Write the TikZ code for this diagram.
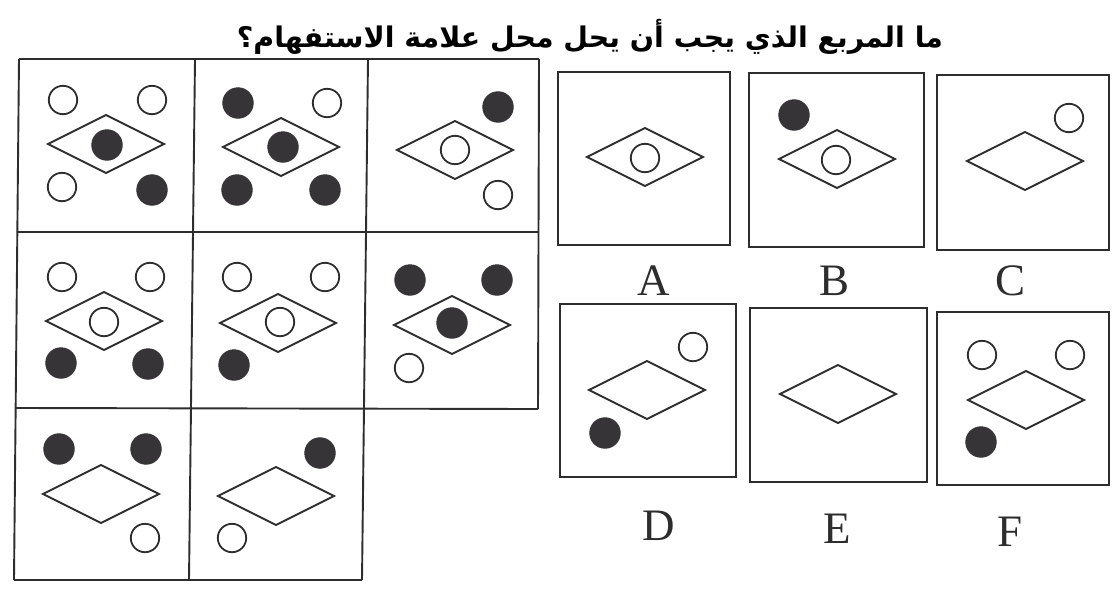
\documentclass[tikz,border=0pt]{standalone}
\usepackage{fontspec}
\setmainfont{Liberation Serif}
\newfontfamily\arabicfont[Script=Arabic]{DejaVu Sans}
\TeXXeTstate=1
\definecolor{ink}{RGB}{45,45,45}
\definecolor{dot}{RGB}{55,52,55}
\tikzset{
  lin/.style={draw=ink, line width=0.95pt},
  opc/.style={circle, draw=ink, line width=0.9pt, fill=white, minimum size=14.2pt, inner sep=0pt},
  blk/.style={circle, draw=dot, line width=0.5pt, fill=dot, minimum size=15.2pt, inner sep=0pt},
  dia/.pic={\draw[lin, line join=miter] (-58,0) -- (0,-29) -- (58,0) -- (0,29) -- cycle;},
  lab/.style={anchor=base, font=\fontsize{22.5}{26}\selectfont, text=ink, inner sep=0pt}
}
\begin{document}
\begin{tikzpicture}[x=0.5pt, y=-0.5pt]
\useasboundingbox (0,0) rectangle (1112,589);
% title
\node (title) at (590,37) {\resizebox{353pt}{!}{\arabicfont\bfseries\beginR ما المربع الذي يجب أن يحل محل علامة الاستفهام؟\endR}};

% grid lines
\draw[lin] (19,59) -- (539,59);
\draw[lin] (18,232) -- (539,232);
\draw[lin] (16,408) -- (538,409);
\draw[lin] (14,580) -- (362,580);
\draw[lin] (19,59) -- (14,580);
\draw[lin] (195,59) -- (189,580);
\draw[lin] (368,59) -- (362,580);
\draw[lin] (539,59) -- (538,409);

% cell 1
\node[opc] (c1a) at (63,100) {};
\node[opc] (c1b) at (152,100) {};
\pic (d1) at (106,144) {dia};
\node[blk] (c1c) at (107,145) {};
\node[opc] (c1d) at (62,187) {};
\node[blk] (c1e) at (152,190) {};
% cell 2
\node[blk] (c2a) at (238,103) {};
\node[opc] (c2b) at (327,103) {};
\pic (d2) at (281,147) {dia};
\node[blk] (c2c) at (283,147) {};
\node[blk] (c2d) at (237,190) {};
\node[blk] (c2e) at (325,190) {};
% cell 3
\node[blk] (c3a) at (498,107) {};
\pic (d3) at (455,150) {dia};
\node[opc] (c3c) at (455,150) {};
\node[opc] (c3d) at (498,195) {};
% cell 4
\node[opc] (c4a) at (62,277) {};
\node[opc] (c4b) at (150,277) {};
\pic (d4) at (104,321) {dia};
\node[opc] (c4c) at (104,322) {};
\node[blk] (c4d) at (61,363) {};
\node[blk] (c4e) at (148,364) {};
% cell 5
\node[opc] (c5a) at (237,277) {};
\node[opc] (c5b) at (325,277) {};
\pic (d5) at (278,323) {dia};
\node[opc] (c5c) at (280,322) {};
\node[blk] (c5d) at (234,365) {};
% cell 6
\node[blk] (c6a) at (410,280) {};
\node[blk] (c6b) at (497,280) {};
\pic (d6) at (452,325) {dia};
\node[blk] (c6c) at (452,323) {};
\node[opc] (c6d) at (409,368) {};
% cell 7
\node[blk] (c7a) at (59,449) {};
\node[blk] (c7b) at (146,449) {};
\pic (d7) at (101,494) {dia};
\node[opc] (c7c) at (145,538) {};
% cell 8
\node[blk] (c8a) at (320,453) {};
\pic (d8) at (276,496) {dia};
\node[opc] (c8c) at (232,538) {};

% option A
\draw[lin] (558,72) rectangle (730,245);
\pic (dA) at (645,157) {dia};
\node[opc] (oAa) at (645,158) {};
\node[lab] (lA) at (654,295) {A};
% option B
\draw[lin] (749,73) rectangle (924,247);
\node[blk] (oBa) at (794,115) {};
\pic (dB) at (837,159) {dia};
\node[opc] (oBb) at (836,160) {};
\node[lab] (lB) at (834,295) {B};
% option C
\draw[lin] (937,75) rectangle (1109,250);
\node[opc] (oCa) at (1069,118) {};
\pic (dC) at (1025,161) {dia};
\node[lab] (lC) at (1010,295) {C};
% option D
\draw[lin] (560,304) rectangle (736,477);
\node[opc] (oDa) at (693,347) {};
\pic (dD) at (647,390) {dia};
\node[blk] (oDb) at (605,433) {};
\node[lab] (lD) at (659,540) {D};
% option E
\draw[lin] (750,308) rectangle (927,482);
\pic (dE) at (838,394) {dia};
\node[lab] (lE) at (837,543) {E};
% option F
\draw[lin] (937,312) rectangle (1109,485);
\node[opc] (oFa) at (982,355) {};
\node[opc] (oFb) at (1070,355) {};
\pic (dF) at (1026,400) {dia};
\node[blk] (oFc) at (981,442) {};
\node[lab] (lF) at (1010,546) {F};
\end{tikzpicture}
\end{document}
